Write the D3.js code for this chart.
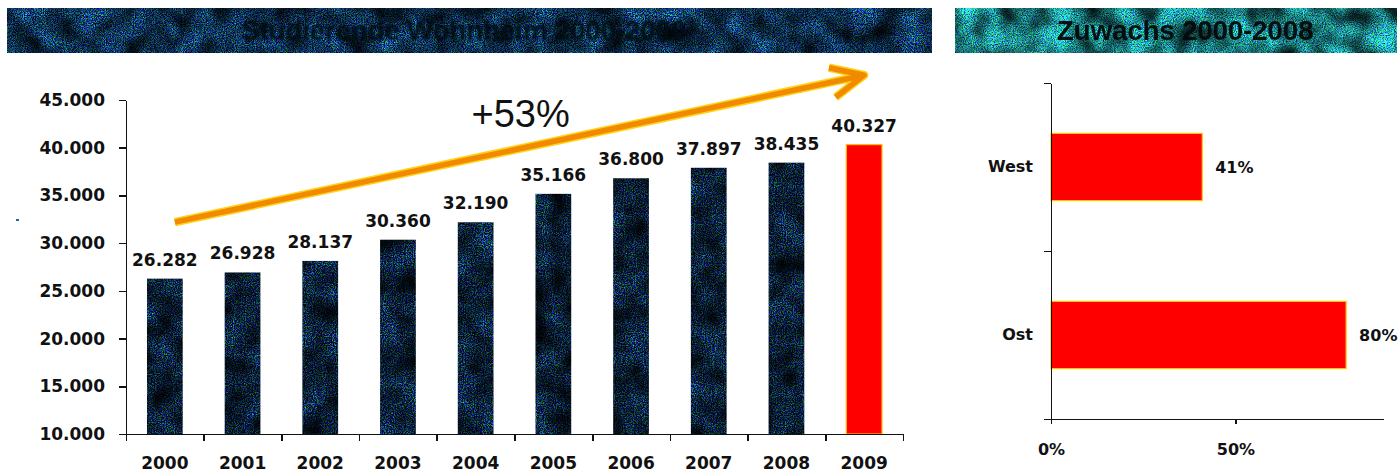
<!DOCTYPE html>
<html lang="de">
<head>
<meta charset="utf-8">
<script src="https://cdn.jsdelivr.net/npm/d3@7"></script>
<style>
  html, body { margin: 0; padding: 0; background: #ffffff; }
  svg { display: block; }
  .axis text { font-family: "DejaVu Sans", Verdana, sans-serif; font-weight: bold; fill: #111; }
  .axis path, .axis line { stroke: #111; stroke-width: 1.6; shape-rendering: crispEdges; }
</style>
</head>
<body>
<svg id="chart" width="1399" height="472"></svg>
<script>
// ---- data -------------------------------------------------------------
const years = ["2000", "2001", "2002", "2003", "2004", "2005", "2006", "2007", "2008", "2009"];
const counts = [26282, 26928, 28137, 30360, 32190, 35166, 36800, 37897, 38435, 40327];
const countTicks = [10000, 15000, 20000, 25000, 30000, 35000, 40000, 45000];
const countDomain = [10000, 45000];

const regions = ["West", "Ost"];
const growthShares = [0.41, 0.80];
const growthTicks = [0, 0.5];
const growthDomain = [0, 0.9];

const titles = ["Studierende Wohnheim 2000-2009", "Zuwachs 2000-2008"];

// trend arrow and its label, given in chart units (category, value)
const trendFrom = { year: "2000", value: 32200 };
const trendTo = { year: "2009", value: 47600 };
const trendLabelAt = { year: "2004", value: 42170 };

// ---- helpers ----------------------------------------------------------
const de = d3.formatLocale({ decimal: ",", thousands: ".", grouping: [3], currency: ["", " €"] });
const fmtCount = de.format(",d");
const fmtPct = d3.format(".0%");
const fmtGrowth = d3.format("+.0%");

const svg = d3.select("#chart");
const defs = svg.append("defs");

// grainy print texture: fine colour speckle modulated by soft blotches
function grainFilter(id, speck, blotch, seed) {
  const f = defs.append("filter").attr("id", id)
    .attr("x", 0).attr("y", 0).attr("width", 1).attr("height", 1)
    .attr("color-interpolation-filters", "sRGB");
  f.append("feTurbulence").attr("type", "fractalNoise").attr("baseFrequency", 0.9)
    .attr("numOctaves", 2).attr("seed", seed).attr("result", "fine");
  f.append("feColorMatrix").attr("in", "fine").attr("type", "matrix")
    .attr("values", speck).attr("result", "speck");
  f.append("feTurbulence").attr("type", "fractalNoise").attr("baseFrequency", 0.04)
    .attr("numOctaves", 2).attr("seed", seed + 7).attr("result", "coarse");
  f.append("feColorMatrix").attr("in", "coarse").attr("type", "matrix")
    .attr("values", blotch).attr("result", "shade");
  f.append("feComposite").attr("in", "speck").attr("in2", "shade")
    .attr("operator", "arithmetic").attr("k1", 2).attr("k2", 0).attr("k3", 0).attr("k4", 0)
    .attr("result", "tex");
  f.append("feComposite").attr("in", "tex").attr("in2", "SourceGraphic").attr("operator", "in");
}

const softBlotch = "1.3 0 0 0 -0.15  1.3 0 0 0 -0.15  1.3 0 0 0 -0.15  0 0 0 0 1";
grainFilter("barGrain",
  "0.2 0 0 0 -0.06  0 1.25 0 0 -0.52  0 0 1.7 0 -0.66  0 0 0 0 1", softBlotch, 3);
grainFilter("bandGrainDark",
  "0.3 0 0 0 -0.1  0 1.35 0 0 -0.5  0 0 1.6 0 -0.5  0 0 0 0 1", softBlotch, 11);
grainFilter("bandGrainLight",
  "0.4 0 0 0 -0.1  0 1.5 0 0 -0.28  0 0 1.4 0 -0.22  0 0 0 0 1", softBlotch, 21);

defs.append("filter").attr("id", "soft").attr("x", "-5%").attr("y", "-20%")
  .attr("width", "110%").attr("height", "140%")
  .append("feGaussianBlur").attr("stdDeviation", 1.3);

// ---- title bands ------------------------------------------------------
const bands = [
  { x0: 7, x1: 932, grain: "bandGrainDark", dx: -6 },
  { x0: 955, x1: 1397, grain: "bandGrainLight", dx: 9 }
];
bands.forEach((b, i) => {
  svg.append("rect").attr("x", b.x0).attr("y", 8).attr("width", b.x1 - b.x0).attr("height", 45)
    .attr("fill", "#1d4f60").attr("filter", `url(#${b.grain})`);
  svg.append("text")
    .attr("x", (b.x0 + b.x1) / 2 + b.dx).attr("y", 40)
    .attr("text-anchor", "middle")
    .style("font-family", "'Liberation Sans', Arial, sans-serif")
    .style("font-weight", "bold").style("font-size", "28px")
    .style("letter-spacing", "-0.3px")
    .attr("fill", i === 0 ? "#02070b" : "#050a0a")
    .attr("opacity", 0.95)
    .attr("filter", i === 0 ? "url(#soft)" : null)
    .text(titles[i]);
});

// stray blue speck at the left margin
svg.append("rect").attr("x", 16).attr("y", 219).attr("width", 3).attr("height", 2).attr("fill", "#2a5fb0");

// ---- left: counts per year -------------------------------------------
const x = d3.scaleBand().domain(years).range([126, 903]).paddingInner(0.54).paddingOuter(0.27);
const y = d3.scaleLinear().domain(countDomain).range([434, 100]);
const slot = d3.scaleLinear().domain([0, years.length]).range(x.range());

svg.append("g").attr("class", "axis").attr("transform", "translate(126,0)")
  .call(d3.axisLeft(y).tickValues(countTicks).tickFormat(fmtCount).tickSizeInner(7).tickSizeOuter(0).tickPadding(14))
  .call(g => g.selectAll("text").style("font-size", "17px"));

svg.append("g").selectAll("rect").data(counts).join("rect")
  .attr("x", (d, i) => x(years[i]))
  .attr("y", d => y(d))
  .attr("width", x.bandwidth())
  .attr("height", d => y(countDomain[0]) - y(d))
  .attr("fill", (d, i) => i === counts.length - 1 ? "#ff0000" : "#0d2430")
  .attr("stroke", (d, i) => i === counts.length - 1 ? "#ffc400" : "none")
  .attr("stroke-width", 1.2)
  .attr("filter", (d, i) => i === counts.length - 1 ? null : "url(#barGrain)");

svg.append("g").attr("class", "axis").attr("transform", "translate(0,434)")
  .call(d3.axisBottom(slot).tickValues(d3.range(years.length + 1)).tickFormat("").tickSizeInner(7).tickSizeOuter(0));

svg.append("g").attr("class", "axis").attr("transform", "translate(0,434)")
  .call(d3.axisBottom(x).tickSize(0).tickPadding(23))
  .call(g => g.select(".domain").remove())
  .call(g => g.selectAll("text").style("font-size", "17px"));

svg.append("g").selectAll("text").data(counts).join("text")
  .attr("x", (d, i) => x(years[i]) + x.bandwidth() / 2)
  .attr("y", d => y(d) - 13)
  .attr("text-anchor", "middle")
  .style("font-family", "'DejaVu Sans', Verdana, sans-serif")
  .style("font-weight", "bold").style("font-size", "17px")
  .attr("fill", "#111")
  .text(d => fmtCount(d));

// trend arrow
const cx = yr => x(yr) + x.bandwidth() / 2;
const p0 = [cx(trendFrom.year) + 10, y(trendFrom.value)];
const p1 = [cx(trendTo.year), y(trendTo.value)];
const ang = Math.atan2(p1[1] - p0[1], p1[0] - p0[0]);
const headLen = 36;
const hA = [p1[0] - headLen * Math.cos(ang - 0.45), p1[1] - headLen * Math.sin(ang - 0.45)];
const hB = [p1[0] - headLen * Math.cos(ang + 0.42), p1[1] - headLen * Math.sin(ang + 0.42)];
const arrow = d3.path();
arrow.moveTo(p0[0], p0[1]); arrow.lineTo(p1[0], p1[1]);
arrow.moveTo(hA[0], hA[1]); arrow.lineTo(p1[0], p1[1]); arrow.lineTo(hB[0], hB[1]);
const arrowG = svg.append("g").attr("fill", "none").attr("stroke-linecap", "butt").attr("stroke-linejoin", "round");
arrowG.append("path").attr("d", arrow.toString()).attr("stroke", "#ffd21a").attr("stroke-width", 8.5);
arrowG.append("path").attr("d", arrow.toString()).attr("stroke", "#f28a00").attr("stroke-width", 5.5);

svg.append("text")
  .attr("x", cx(trendLabelAt.year) + 45).attr("y", y(trendLabelAt.value))
  .attr("text-anchor", "middle")
  .style("font-family", "'Liberation Sans', Arial, sans-serif")
  .style("font-size", "38px").attr("fill", "#111")
  .text(fmtGrowth(counts[counts.length - 1] / counts[0] - 1));

// ---- right: growth by region -----------------------------------------
const gy = d3.scaleBand().domain(regions).range([83, 419]).paddingInner(0.6).paddingOuter(0.3);
const gx = d3.scaleLinear().domain(growthDomain).range([1051, 1383]);
const gslot = d3.scaleLinear().domain([0, regions.length]).range(gy.range());

svg.append("g").selectAll("rect").data(growthShares).join("rect")
  .attr("x", gx(0))
  .attr("y", (d, i) => gy(regions[i]))
  .attr("width", d => gx(d) - gx(0))
  .attr("height", gy.bandwidth())
  .attr("fill", "#ff0000").attr("stroke", "#ffc400").attr("stroke-width", 1.2);

svg.append("g").attr("class", "axis").attr("transform", "translate(1051,0)")
  .call(d3.axisLeft(gslot).tickValues(d3.range(regions.length + 1)).tickFormat("").tickSizeInner(7).tickSizeOuter(0));

svg.append("g").attr("class", "axis").attr("transform", "translate(1051,0)")
  .call(d3.axisLeft(gy).tickSize(0).tickPadding(18))
  .call(g => g.select(".domain").remove())
  .call(g => g.selectAll("text").style("font-size", "16px"));

svg.append("g").attr("class", "axis").attr("transform", "translate(0,419)")
  .call(d3.axisBottom(gx).tickValues(growthTicks).tickFormat(fmtPct).tickSizeInner(5).tickSizeOuter(0).tickPadding(20))
  .call(g => g.selectAll("text").style("font-size", "16px"));

svg.append("g").selectAll("text").data(growthShares).join("text")
  .attr("x", d => gx(d) + 13)
  .attr("y", (d, i) => gy(regions[i]) + gy.bandwidth() / 2)
  .attr("dominant-baseline", "central")
  .style("font-family", "'DejaVu Sans', Verdana, sans-serif")
  .style("font-weight", "bold").style("font-size", "16px")
  .attr("fill", "#111")
  .text(d => fmtPct(d));
</script>
</body>
</html>
